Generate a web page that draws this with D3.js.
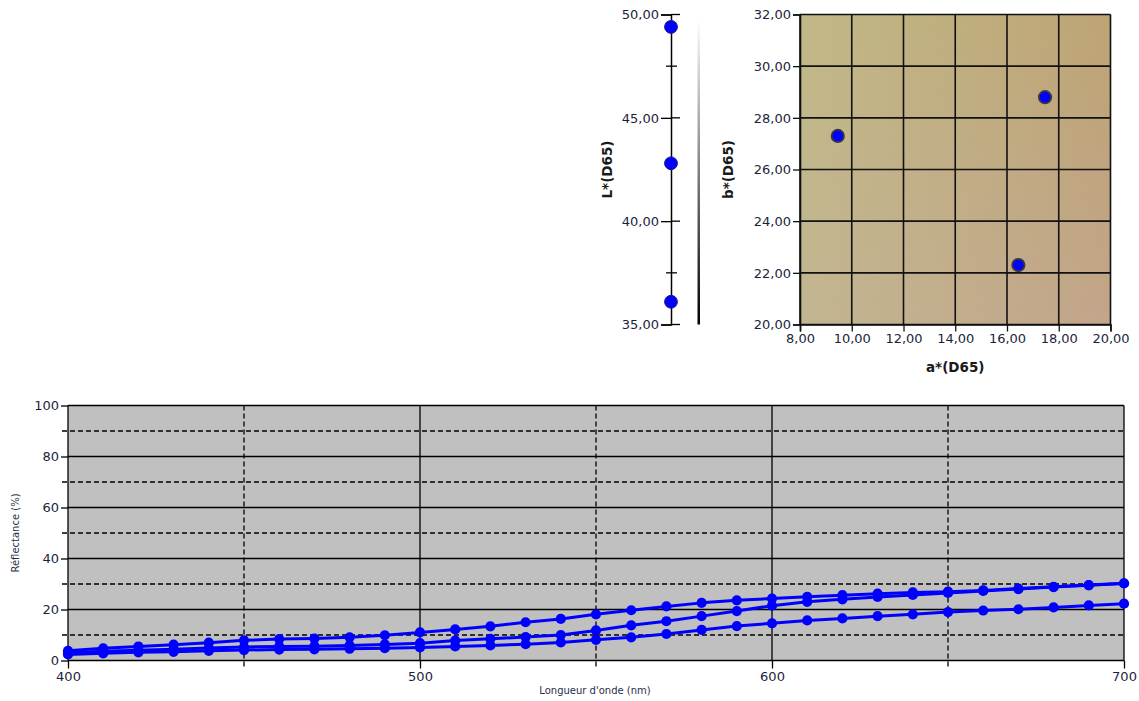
<!DOCTYPE html>
<html><head><meta charset="utf-8">
<script src="https://cdn.jsdelivr.net/npm/d3@7"></script>
<style>
html,body{margin:0;padding:0;background:#fff;}
text{font-family:"DejaVu Sans",Verdana,sans-serif;}
</style></head>
<body>
<svg id="chart" width="1139" height="701"></svg>
<script>
// ---------- data ----------
const sampleL = [49.4, 42.8, 36.1];
const sampleA = [9.46, 17.47, 16.44];
const sampleB = [27.3, 28.8, 22.3];

const lTicks = [35, 40, 45, 50];
const lMinorTicks = [37.5, 47.5];
const aTicks = [8, 10, 12, 14, 16, 18, 20];
const bTicks = [20, 22, 24, 26, 28, 30, 32];

const wavelengths = [400,410,420,430,440,450,460,470,480,490,500,510,520,530,540,550,560,570,580,590,600,610,620,630,640,650,660,670,680,690,700];
const seriesA = [3.8,4.8,5.5,6.2,7.0,7.9,8.4,8.6,9.1,9.9,11.0,12.2,13.4,15.0,16.3,18.1,19.7,21.2,22.6,23.6,24.3,25.0,25.6,26.2,26.7,27.0,27.5,28.2,28.9,29.6,30.3];
const seriesB = [3.0,3.6,4.0,4.4,4.9,5.3,5.5,5.6,5.9,6.3,6.8,7.8,8.5,9.2,10.0,11.8,13.8,15.4,17.4,19.4,21.5,23.0,24.0,24.9,25.7,26.5,27.3,28.0,28.8,29.5,30.2];
const seriesC = [2.4,2.8,3.2,3.4,3.8,4.1,4.3,4.4,4.6,4.8,5.1,5.5,5.9,6.4,7.1,8.1,9.1,10.4,12.0,13.5,14.6,15.7,16.5,17.4,18.1,19.0,19.6,20.1,20.8,21.6,22.3];

const wlTicks = [400, 500, 600, 700];
const wlDashed = [450, 550, 650];
const rTicks = [0, 20, 40, 60, 80, 100];
const rDashed = [10, 30, 50, 70, 90];

// ---------- setup ----------
const svg = d3.select("#chart");
const fmt = d => d3.format(".2f")(d).replace(".", ",");
const labelColor = "#1c1f3c";
const defs = svg.append("defs");

// ---------- L* axis ----------
const yL = d3.scaleLinear().domain([35, 50]).range([324.5, 14.5]);
const lx = 671;
const gL = svg.append("g").attr("transform", `translate(${lx},0)`);
gL.call(d3.axisLeft(yL).tickValues(lTicks).tickFormat(fmt).tickSize(10).tickPadding(2))
  .call(g => g.select(".domain").attr("stroke", "#000").attr("stroke-width", 1.5))
  .call(g => g.selectAll(".tick line").attr("stroke", "#000").attr("stroke-width", 1.3))
  .call(g => g.selectAll(".tick text").attr("font-size", 13).attr("fill", labelColor)
                .attr("font-family", "DejaVu Sans"));
gL.selectAll(".rtick").data(lTicks).join("line")
  .attr("x1", 0).attr("x2", 9).attr("y1", d => yL(d)).attr("y2", d => yL(d))
  .attr("stroke", "#000").attr("stroke-width", 1.3);
gL.selectAll(".mtick").data(lMinorTicks).join("line")
  .attr("x1", -5).attr("x2", 6).attr("y1", d => yL(d)).attr("y2", d => yL(d))
  .attr("stroke", "#000").attr("stroke-width", 1.3);
gL.selectAll(".lpt").data(sampleL).join("circle")
  .attr("cx", 0).attr("cy", d => yL(d)).attr("r", 6.4)
  .attr("fill", "#0000ff").attr("stroke", "#1a1a80").attr("stroke-width", 1);
svg.append("text").attr("transform", `translate(612,${(yL(35)+yL(50))/2}) rotate(-90)`)
  .attr("text-anchor", "middle").attr("font-weight", "bold").attr("font-size", 13.5)
  .attr("fill", "#1a1a1a").text("L*(D65)");

const lg = defs.append("linearGradient").attr("id", "lbar").attr("x1", 0).attr("y1", 0).attr("x2", 0).attr("y2", 1);
lg.append("stop").attr("offset", "0%").attr("stop-color", "#ffffff");
lg.append("stop").attr("offset", "100%").attr("stop-color", "#000000");
svg.append("rect").attr("x", 697.5).attr("y", yL(49.8)).attr("width", 2.5)
  .attr("height", yL(35) - yL(49.8)).attr("fill", "url(#lbar)");

// ---------- a*b* plot ----------
const xA = d3.scaleLinear().domain([8, 20]).range([800, 1110.5]);
const yB = d3.scaleLinear().domain([20, 32]).range([324.5, 14.5]);
const pw = xA(20) - xA(8), ph = yB(20) - yB(32);

const gTop = defs.append("linearGradient").attr("id", "abTop");
gTop.append("stop").attr("offset", "0%").attr("stop-color", "rgb(193,184,135)");
gTop.append("stop").attr("offset", "100%").attr("stop-color", "rgb(189,164,116)");
const gBot = defs.append("linearGradient").attr("id", "abBot");
gBot.append("stop").attr("offset", "0%").attr("stop-color", "rgb(195,182,146)");
gBot.append("stop").attr("offset", "100%").attr("stop-color", "rgb(195,165,139)");
const gMask = defs.append("linearGradient").attr("id", "abMaskG").attr("x1", 0).attr("y1", 0).attr("x2", 0).attr("y2", 1);
gMask.append("stop").attr("offset", "0%").attr("stop-color", "#fff");
gMask.append("stop").attr("offset", "100%").attr("stop-color", "#000");
defs.append("mask").attr("id", "abMask").attr("maskContentUnits", "userSpaceOnUse")
  .append("rect").attr("x", xA(8)).attr("y", yB(32)).attr("width", pw).attr("height", ph).attr("fill", "url(#abMaskG)");

svg.append("rect").attr("x", xA(8)).attr("y", yB(32)).attr("width", pw).attr("height", ph).attr("fill", "url(#abBot)");
svg.append("rect").attr("x", xA(8)).attr("y", yB(32)).attr("width", pw).attr("height", ph).attr("fill", "url(#abTop)").attr("mask", "url(#abMask)");

const gAB = svg.append("g");
gAB.selectAll(".vg").data(aTicks).join("line")
  .attr("x1", d => xA(d)).attr("x2", d => xA(d)).attr("y1", yB(32)).attr("y2", yB(20))
  .attr("stroke", "#111").attr("stroke-width", 1.6);
gAB.selectAll(".hg").data(bTicks).join("line")
  .attr("x1", xA(8)).attr("x2", xA(20)).attr("y1", d => yB(d)).attr("y2", d => yB(d))
  .attr("stroke", "#111").attr("stroke-width", 1.6);

svg.append("g").attr("transform", `translate(${xA(8)},0)`)
  .call(d3.axisLeft(yB).tickValues(bTicks).tickFormat(fmt).tickSize(7).tickPadding(2))
  .call(g => g.select(".domain").attr("stroke", "#111").attr("stroke-width", 1.6))
  .call(g => g.selectAll(".tick line").attr("stroke", "#111").attr("stroke-width", 1.3))
  .call(g => g.selectAll(".tick text").attr("font-size", 13).attr("fill", labelColor).attr("font-family", "DejaVu Sans"));
svg.append("g").attr("transform", `translate(0,${yB(20)})`)
  .call(d3.axisBottom(xA).tickValues(aTicks).tickFormat(fmt).tickSize(7).tickPadding(2))
  .call(g => g.select(".domain").attr("stroke", "#111").attr("stroke-width", 1.6))
  .call(g => g.selectAll(".tick line").attr("stroke", "#111").attr("stroke-width", 1.3))
  .call(g => g.selectAll(".tick text").attr("font-size", 13).attr("fill", labelColor).attr("font-family", "DejaVu Sans"));

gAB.selectAll(".abpt").data(sampleA.map((a, i) => ({a, b: sampleB[i]}))).join("circle")
  .attr("cx", d => xA(d.a)).attr("cy", d => yB(d.b)).attr("r", 6.2)
  .attr("fill", "#0000ff").attr("stroke", "#3a3a3a").attr("stroke-width", 1.8);

svg.append("text").attr("x", (xA(8)+xA(20))/2).attr("y", 372)
  .attr("text-anchor", "middle").attr("font-weight", "bold").attr("font-size", 13.5)
  .attr("fill", "#1a1a1a").text("a*(D65)");
svg.append("text").attr("transform", `translate(733,${(yB(20)+yB(32))/2}) rotate(-90)`)
  .attr("text-anchor", "middle").attr("font-weight", "bold").attr("font-size", 13.5)
  .attr("fill", "#1a1a1a").text("b*(D65)");

// ---------- reflectance chart ----------
const xW = d3.scaleLinear().domain([400, 700]).range([68, 1124]);
const yR = d3.scaleLinear().domain([0, 100]).range([660.5, 405.5]);
const gR = svg.append("g");
gR.append("rect").attr("x", xW(400)).attr("y", yR(100)).attr("width", xW(700) - xW(400))
  .attr("height", yR(0) - yR(100)).attr("fill", "#c0c0c0");

gR.selectAll(".hd").data(rDashed).join("line")
  .attr("x1", xW(400) - 6).attr("x2", xW(700)).attr("y1", d => yR(d)).attr("y2", d => yR(d))
  .attr("stroke", "#000").attr("stroke-width", 1.3).attr("stroke-dasharray", "5,3");
gR.selectAll(".hs").data(rTicks).join("line")
  .attr("x1", xW(400)).attr("x2", xW(700)).attr("y1", d => yR(d)).attr("y2", d => yR(d))
  .attr("stroke", "#000").attr("stroke-width", 1.3);
gR.selectAll(".vd").data(wlDashed).join("line")
  .attr("x1", d => xW(d)).attr("x2", d => xW(d)).attr("y1", yR(100)).attr("y2", yR(0) + 8)
  .attr("stroke", "#000").attr("stroke-width", 1.3).attr("stroke-dasharray", "5,3");
gR.selectAll(".vs").data(wlTicks).join("line")
  .attr("x1", d => xW(d)).attr("x2", d => xW(d)).attr("y1", yR(100)).attr("y2", yR(0))
  .attr("stroke", "#000").attr("stroke-width", 1.3);

svg.append("g").attr("transform", `translate(${xW(400)},0)`)
  .call(d3.axisLeft(yR).tickValues(rTicks).tickSize(7).tickPadding(2))
  .call(g => g.select(".domain").remove())
  .call(g => g.selectAll(".tick line").attr("stroke", "#000").attr("stroke-width", 1.3))
  .call(g => g.selectAll(".tick text").attr("font-size", 13).attr("fill", labelColor).attr("font-family", "DejaVu Sans"));
svg.append("g").attr("transform", `translate(0,${yR(0)})`)
  .call(d3.axisBottom(xW).tickValues(wlTicks).tickSize(8).tickPadding(3))
  .call(g => g.select(".domain").remove())
  .call(g => g.selectAll(".tick line").attr("stroke", "#000").attr("stroke-width", 1.3))
  .call(g => g.selectAll(".tick text").attr("font-size", 13).attr("fill", labelColor).attr("font-family", "DejaVu Sans"));

const line = d3.line().x(d => xW(d.w)).y(d => yR(d.v));
const allSeries = [seriesA, seriesB, seriesC].map(s => s.map((v, i) => ({w: wavelengths[i], v})));
const gS = gR.append("g");
allSeries.forEach(s => {
  gS.append("path").datum(s).attr("d", line).attr("fill", "none")
    .attr("stroke", "#0000ff").attr("stroke-width", 3).attr("stroke-linejoin", "round");
  gS.append("g").selectAll("circle").data(s).join("circle")
    .attr("cx", d => xW(d.w)).attr("cy", d => yR(d.v)).attr("r", 5.1).attr("fill", "#0000ff");
});

svg.append("text").attr("x", (xW(400)+xW(700))/2 - 1).attr("y", 694)
  .attr("text-anchor", "middle").attr("font-size", 10).attr("fill", "#2a2e4a").text("Longueur d'onde (nm)");
svg.append("text").attr("transform", `translate(19,${(yR(0)+yR(100))/2}) rotate(-90)`)
  .attr("text-anchor", "middle").attr("font-size", 10).attr("fill", "#2a2e4a").text("Réflectance (%)");
</script>
</body></html>
